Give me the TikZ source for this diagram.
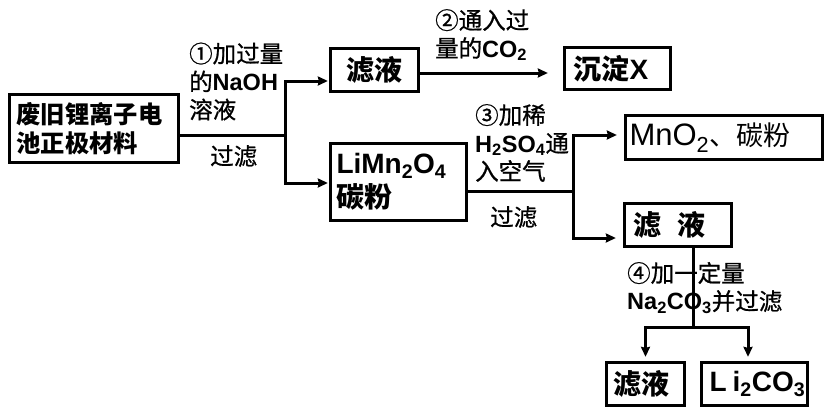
\documentclass[tikz,border=0pt]{standalone}
\usepackage{fontspec}
\setmainfont{Liberation Sans}
\newfontfamily\cjk{Noto Sans CJK SC}
\newfontfamily\cjkm[FakeBold=0.8]{Noto Sans CJK SC}
\usetikzlibrary{arrows.meta,calc}
\newcommand{\zh}[1]{{\cjkm #1}}
\newcommand{\zhr}[1]{{\cjk #1}}
\newcommand{\zhb}[1]{{\cjk\bfseries #1}}
\newcommand{\sbt}[1]{\textsubscript{#1}}
\tikzset{
  box/.style={draw,line width=3.3pt,inner sep=0pt,anchor=center,align=left},
  ln/.style={line width=3pt},
  arr/.style={ln,-{Stealth[length=10pt,width=9pt,inset=1pt]}},
  lbl/.style={inner sep=0pt,anchor=west,align=left,font=\fontsize{23.5}{28}\selectfont},
  big/.style={font=\fontsize{28}{34}\selectfont},
}
\begin{document}
\begin{tikzpicture}[x=1pt,y=-1pt]
\useasboundingbox (0,0) rectangle (829,412);
% boxes
\node[box,minimum width=169pt,minimum height=68pt,inner xsep=7pt,text width=155pt,font=\fontsize{24.3}{29}\selectfont] (raw) at (94,128.5) {\zhb{废旧锂离子电}\\\zhb{池正极材料}};
\node[box,big,minimum width=88pt,minimum height=43pt] (f1) at (374.5,70) {\zhb{滤液}};
\node[box,big,minimum width=106pt,minimum height=42pt,inner xsep=9pt,text width=88pt] (x1) at (617.5,68.5) {\zhb{沉淀}\textbf{X}};
\node[box,big,minimum width=136pt,minimum height=77pt,inner xsep=6pt,text width=124pt] (b3) at (398.5,182) {\textbf{LiMn\sbt{2}O\sbt{4}}\\\zhb{碳粉}};
\node[box,minimum width=197pt,minimum height=44pt,inner xsep=4pt,text width=189pt] (m) at (724,137.5) {\fontsize{31}{34}\selectfont MnO\sbt{2}\fontsize{27}{34}\selectfont\zhr{、碳粉}};
\node[box,big,minimum width=107pt,minimum height=43pt,inner xsep=9pt,text width=89pt] (f2) at (678,225) {\mbox{\zhb{滤}\hspace{16pt}\zhb{液}}};
\node[box,big,minimum width=78pt,minimum height=43pt,inner xsep=7pt,text width=64pt] (f3) at (645.5,384) {\zhb{滤液}};
\node[box,big,minimum width=106pt,minimum height=43pt,inner xsep=8pt,text width=90pt] (li) at (754.5,384) {\mbox{\textbf{L\hspace{6pt}i\sbt{2}CO\sbt{3}}}};
% labels
\node[lbl] (l1) at (189,81.5) {\zh{①加过量}\\\zh{的}\textbf{NaOH}\\\zh{溶液}};
\node[lbl] (l1b) at (210,156) {\zh{过滤}};
\node[lbl] (l2) at (435,35) {\zh{②通入过}\\\zh{量的}\textbf{CO\sbt{2}}};
\node[lbl] (l3) at (475,143) {\zh{③加稀}\\\textbf{H\sbt{2}SO\sbt{4}}\zh{通}\\\zh{入空气}};
\node[lbl] (l3b) at (490,217) {\zh{过滤}};
\node[lbl] (l4) at (627,288) {\zh{④加一定量}\\\textbf{Na\sbt{2}CO\sbt{3}}\zh{并过滤}};
% connectors
\coordinate (j1) at (285,135);
\draw[ln] (raw.east |- j1) -- (j1);
\draw[arr] (j1) |- ($(f1.west)+(-1,11)$);
\draw[arr] (j1) |- ($(b3.west)+(-1,1)$);
\draw[arr] ($(f1.east)+(0,3)$) -- ($(x1.west |- f1.east)+(-15,3)$);
\coordinate (j2) at (573,191);
\draw[ln] ($(b3.east)+(0,9)$) -- (j2);
\draw[arr] (j2) |- ($(m.west)+(-7,-2.5)$);
\draw[arr] (j2) |- ($(f2.west)+(-7,13)$);
\coordinate (j3) at (693,327);
\coordinate (k1) at (f3.north |- j3);
\draw[ln] ($(f2.south)+(15,0)$) -- (j3);
\draw[arr] (j3) -- (k1) -- ($(f3.north)+(0,-4)$);
\draw[arr] (j3) -| ($(li.north)+(-6.5,-4)$);
\end{tikzpicture}
\end{document}
